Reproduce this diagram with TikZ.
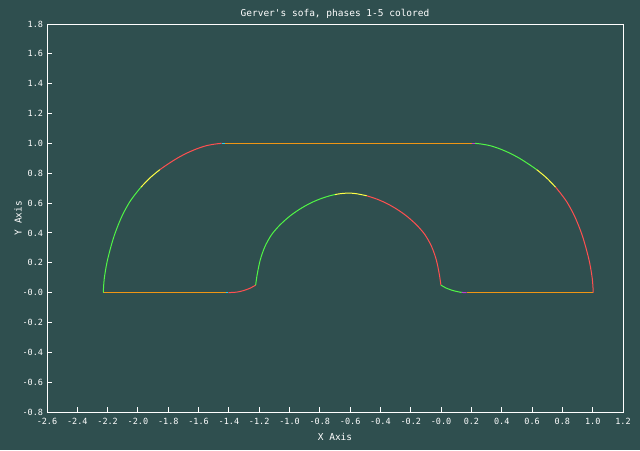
\documentclass[tikz,border=0pt]{standalone}
\usepackage{fontspec}
\newfontfamily\plotfont{DejaVu Sans Mono}
\definecolor{bg}{RGB}{47,79,79}
\definecolor{cgreen}{RGB}{80,245,70}
\definecolor{cred}{RGB}{255,80,80}
\definecolor{cyellow}{RGB}{255,255,70}
\definecolor{corange}{RGB}{240,150,20}
\definecolor{ccyan}{RGB}{40,210,230}
\definecolor{cmag}{RGB}{190,60,210}
\begin{document}
\begin{tikzpicture}[x=1pt,y=-1pt,line width=1pt,
  ticklbl/.style={text=white,font=\plotfont\fontsize{8.5}{9}\selectfont,inner sep=0pt},
  axlbl/.style={text=white,font=\plotfont\fontsize{9.5}{10}\selectfont,inner sep=0pt},
  frameline/.style={draw=white,line width=1pt},
  seg/.style={line width=1pt,line cap=butt,line join=round}]
\fill[bg] (0,0) rectangle (640,450);
\useasboundingbox (0,0) rectangle (640,450);
% frame
\draw[frameline] (47,24) rectangle (623,412);
% x ticks and labels
\foreach \t [count=\i from 0] in {-2.6,-2.4,-2.2,-2.0,-1.8,-1.6,-1.4,-1.2,-1.0,-0.8,-0.6,-0.4,-0.2,-0.0,0.2,0.4,0.6,0.8,1.0,1.2}{
  \pgfmathsetmacro\xx{47+\i*30.316}
  \draw[frameline] (\xx,412) -- (\xx,407);
  \node[ticklbl] (xt\i) at (\xx,421) {\t};
}
% y ticks and labels
\foreach \t [count=\j from 0] in {-0.8,-0.6,-0.4,-0.2,-0.0,0.2,0.4,0.6,0.8,1.0,1.2,1.4,1.6,1.8}{
  \pgfmathsetmacro\yy{412-\j*29.846}
  \draw[frameline] (47,\yy) -- (52,\yy);
  \node[ticklbl,anchor=east] (yt\j) at (43.5,\yy) {\t};
}
\node[axlbl] (title) at (335,14) {Gerver's sofa, phases 1-5 colored};
\node[axlbl] (xaxis) at (335,437) {X Axis};
\node[axlbl,rotate=90] (yaxis) at (18,218) {Y Axis};
% data
\begin{scope}[shift={(441.2,292.6)},x=151.6pt,y=149.2pt]
  % flat parts
  \draw[seg,corange] (-2.229,0) -- (-1.419,0);
  \draw[seg,ccyan] (-1.419,0) -- (-1.404,0);
  \draw[seg,cmag] (0.135,0.001) -- (0.168,0);
  \draw[seg,corange] (0.168,0) -- (1.003,0);
  \draw[seg,ccyan] (-1.449,1) -- (-1.426,1);
  \draw[seg,corange] (-1.426,1) -- (0.201,1);
  \draw[seg,cmag] (0.201,1) -- (0.223,1);
  % outer right arc
  \draw[seg,cgreen] plot[smooth] coordinates {(0.223,1.0) (0.256,0.997) (0.322,0.985) (0.388,0.963) (0.454,0.934) (0.520,0.898) (0.586,0.855) (0.630,0.824)};
  \draw[seg,cyellow] plot[smooth] coordinates {(0.630,0.824) (0.694,0.770) (0.755,0.706)};
  \draw[seg,cred] plot[smooth] coordinates {(0.755,0.706) (0.784,0.670) (0.828,0.609) (0.871,0.531) (0.904,0.455) (0.933,0.375) (0.958,0.288) (0.980,0.196) (0.997,0.090) (1.003,0)};
  % outer left arc
  \draw[seg,cred] plot[smooth] coordinates {(-1.449,1.0) (-1.482,0.997) (-1.548,0.985) (-1.614,0.963) (-1.680,0.934) (-1.746,0.898) (-1.812,0.855) (-1.856,0.824)};
  \draw[seg,cyellow] plot[smooth] coordinates {(-1.856,0.824) (-1.920,0.770) (-1.981,0.706)};
  \draw[seg,cgreen] plot[smooth] coordinates {(-1.981,0.706) (-2.010,0.670) (-2.054,0.609) (-2.097,0.531) (-2.130,0.455) (-2.159,0.375) (-2.184,0.288) (-2.206,0.196) (-2.223,0.090) (-2.229,0)};
  % inner curve
  \draw[seg,cred] plot[smooth] coordinates {(-1.404,0) (-1.350,0.003) (-1.306,0.013) (-1.262,0.029) (-1.224,0.050)};
  \draw[seg,cgreen] plot[smooth] coordinates {(-1.224,0.050) (-1.214,0.120) (-1.194,0.218) (-1.163,0.308) (-1.119,0.388) (-1.064,0.453) (-0.998,0.513) (-0.932,0.560) (-0.866,0.598) (-0.801,0.627) (-0.735,0.649) (-0.700,0.657)};
  \draw[seg,cyellow] plot[smooth] coordinates {(-0.700,0.657) (-0.666,0.663) (-0.613,0.667) (-0.560,0.663) (-0.491,0.649)};
  \draw[seg,cred] plot[smooth] coordinates {(-0.491,0.649) (-0.425,0.627) (-0.360,0.598) (-0.294,0.560) (-0.228,0.513) (-0.162,0.453) (-0.107,0.388) (-0.063,0.308) (-0.032,0.218) (-0.012,0.120) (-0.002,0.050)};
  \draw[seg,cgreen] plot[smooth] coordinates {(-0.002,0.050) (0.036,0.029) (0.080,0.013) (0.124,0.003) (0.135,0.001)};
\end{scope}
\end{tikzpicture}
\end{document}
